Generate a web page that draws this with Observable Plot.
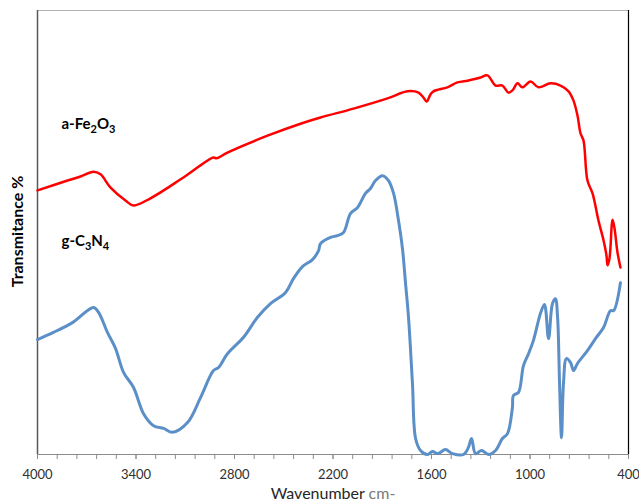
<!DOCTYPE html>
<html>
<head>
<meta charset="utf-8">
<script src="https://cdn.jsdelivr.net/npm/d3@7"></script>
<script src="https://cdn.jsdelivr.net/npm/@observablehq/plot@0.6"></script>
<style>
  html, body { margin: 0; padding: 0; background: #fff; }
  #chart svg { display: block; }
</style>
</head>
<body>
<div id="chart"></div>
<script>
// Red spectrum (a-Fe2O3): wavenumber (cm-1) and transmittance (arbitrary %)
const redWavenumber = [4000, 3817, 3738, 3659, 3616, 3555, 3464, 3415, 3312, 3111, 2928, 2910, 2843, 2599, 2398, 2276, 2075, 1868, 1746, 1679, 1649, 1630, 1606, 1588, 1503, 1442, 1381, 1344, 1301, 1259, 1210, 1168, 1131, 1107, 1076, 1046, 997, 948, 875, 814, 765, 735, 711, 692, 674, 650, 619, 583, 552, 534, 528, 516, 497, 485, 467, 449];
const redT = [59.5, 61.7, 62.6, 63.7, 63.1, 60.1, 57.2, 56.1, 57.7, 62.4, 66.9, 66.7, 68.0, 71.8, 74.5, 75.9, 77.9, 80.2, 81.8, 81.5, 80.4, 79.5, 81.1, 81.8, 82.7, 83.8, 84.2, 84.5, 84.9, 85.4, 83.1, 83.1, 81.5, 82.0, 83.6, 82.7, 84.0, 82.7, 83.6, 83.1, 81.8, 79.7, 76.4, 72.3, 70.7, 61.7, 58.8, 52.7, 48.2, 44.8, 42.6, 44.1, 52.9, 50.9, 45.5, 42.1];

// Blue spectrum (g-C3N4)
const blueWavenumber = [4000, 3903, 3787, 3659, 3628, 3574, 3525, 3476, 3415, 3354, 3293, 3232, 3178, 3086, 3007, 2928, 2897, 2843, 2745, 2660, 2581, 2489, 2441, 2386, 2325, 2288, 2276, 2215, 2173, 2136, 2093, 2051, 2002, 1972, 1941, 1898, 1862, 1831, 1801, 1777, 1758, 1740, 1716, 1697, 1667, 1624, 1594, 1563, 1515, 1472, 1405, 1375, 1356, 1332, 1295, 1253, 1210, 1168, 1137, 1107, 1101, 1070, 1040, 1009, 979, 936, 912, 887, 863, 845, 832, 820, 808, 796, 778, 753, 735, 711, 650, 601, 552, 510, 491, 449];
const blueT = [25.9, 27.5, 29.7, 33.1, 32.0, 27.5, 23.9, 18.5, 15.1, 9.2, 6.5, 5.9, 5.0, 7.2, 12.8, 18.9, 19.6, 22.7, 26.4, 30.9, 34.0, 36.5, 39.6, 42.3, 43.9, 45.9, 47.5, 48.9, 49.3, 50.0, 54.3, 55.6, 58.8, 59.9, 61.7, 62.8, 61.7, 58.8, 52.7, 46.4, 38.5, 30.9, 16.0, 3.6, 0.9, 0.0, 0.7, 0.2, 1.1, 0.2, 0.0, 1.6, 3.6, 0.2, 0.9, 0.0, 0.9, 3.6, 4.7, 10.6, 13.3, 14.0, 20.0, 22.7, 25.7, 31.8, 33.8, 26.1, 34.0, 35.1, 30.9, 16.0, 3.8, 16.0, 21.6, 20.7, 18.9, 20.5, 23.4, 26.1, 28.6, 32.4, 32.4, 38.7];

// Axis ticks and labels
const majorTicks = [4000, 3400, 2800, 2200, 1600, 1000, 400];
const minorTicks = [4000, 3880, 3760, 3640, 3520, 3400, 3280, 3160, 3040, 2920, 2800, 2680, 2560, 2440, 2320, 2200, 2080, 1960, 1840, 1720, 1600, 1480, 1360, 1240, 1120, 1000, 880, 760, 640, 520, 400];
const seriesNames = ["a-Fe2O3", "g-C3N4"];
const labelWavenumber = [3854, 3854];
const labelT = [74.5, 48.0];
const xTitle = "Wavenumber cm-";
const yTitle = "Transmitance %";

const redData = redWavenumber.map((w, i) => ({w, t: redT[i]}));
const blueData = blueWavenumber.map((w, i) => ({w, t: blueT[i]}));
const labelData = seriesNames.map((n, i) => ({n, w: labelWavenumber[i], t: labelT[i]}));

const chart = Plot.plot({
  width: 639,
  height: 501,
  marginLeft: 37,
  marginRight: 11,
  marginTop: 10,
  marginBottom: 47,
  x: {domain: [4000, 400]},
  y: {domain: [0, 100], axis: null},
  style: {fontFamily: "Lato, 'Open Sans', sans-serif", background: "#fff", overflow: "visible"},
  marks: [
    Plot.ruleY([100], {stroke: "#b0b0b0", strokeWidth: 1}),
    Plot.ruleX([400], {stroke: "#000", strokeWidth: 1.2}),
    Plot.axisX({ticks: minorTicks, tickFormat: () => "", tickSize: 5, stroke: "#8c8c8c", label: null}),
    Plot.axisX({ticks: majorTicks, tickFormat: d => String(d), tickSize: 5, tickPadding: 10, stroke: "#8c8c8c", fontSize: 13, color: "#303030", label: null}),
    Plot.ruleY([0], {stroke: "#8c8c8c", strokeWidth: 1}),
    Plot.ruleX([4000], {stroke: "#595959", strokeWidth: 1.5}),
    Plot.line(redData, {x: "w", y: "t", stroke: "#ff0000", strokeWidth: 2.5, curve: "catmull-rom"}),
    Plot.line(blueData, {x: "w", y: "t", stroke: "#5b8fc7", strokeWidth: 3, curve: "catmull-rom"}),
    Plot.text(labelData, {x: "w", y: "t", text: "n", textAnchor: "start", fontSize: 15, fontWeight: "bold", fill: "#000", className: "chem-label"}),
    Plot.text([xTitle], {frameAnchor: "bottom", textAnchor: "middle", lineAnchor: "bottom", dy: 44, fontSize: 16, fill: "#262626", className: "x-title"}),
    Plot.text([yTitle], {frameAnchor: "left", textAnchor: "middle", lineAnchor: "middle", dx: -20, dy: -1, rotate: -90, fontSize: 16, fontWeight: "bold", fill: "#000"})
  ]
});

document.getElementById("chart").appendChild(chart);

// Render subscripts in chemical formulas
d3.select(chart).selectAll(".chem-label text").each(function() {
  const el = d3.select(this);
  const s = el.text();
  el.text(null);
  const parts = s.match(/\d+|\D+/g) || [];
  let sub = false;
  parts.forEach(p => {
    const isNum = /^\d+$/.test(p);
    const ts = el.append("tspan").text(p);
    if (isNum) {
      ts.attr("font-size", "11").attr("dy", sub ? 0 : 4);
      sub = true;
    } else {
      if (sub) ts.attr("dy", -4);
      sub = false;
    }
  });
});

// Gray unit in x title
d3.select(chart).selectAll(".x-title text").each(function() {
  const el = d3.select(this);
  el.text(null);
  el.append("tspan").text("Wavenumber ").attr("fill", "#262626");
  el.append("tspan").text("cm-").attr("fill", "#7a7a7a");
});
</script>
</body>
</html>
